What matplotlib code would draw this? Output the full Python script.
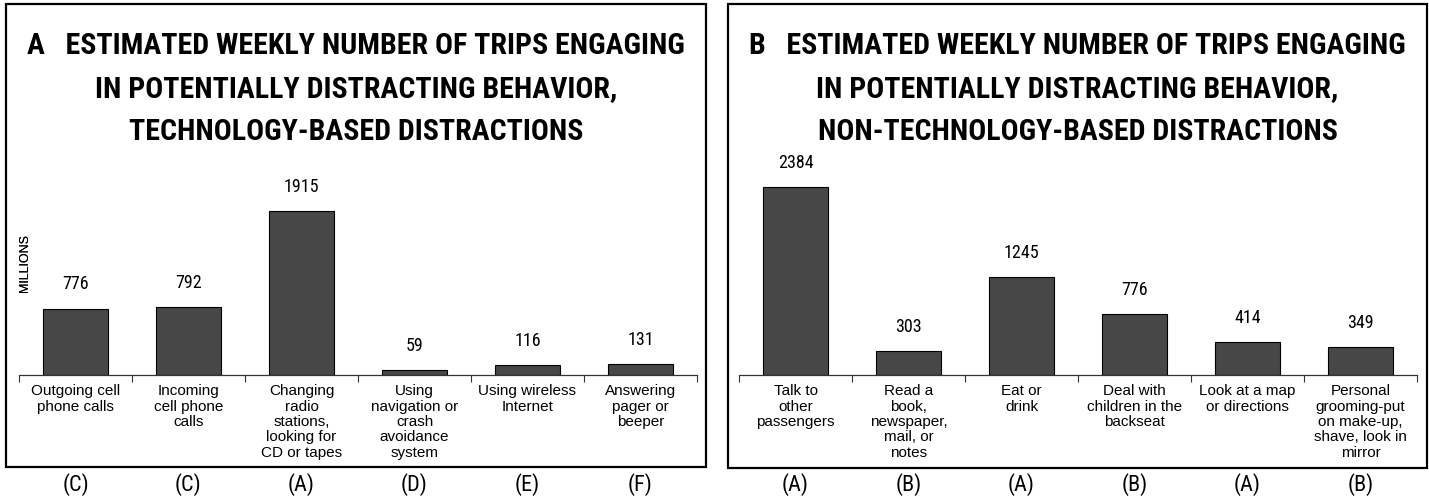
import matplotlib
matplotlib.use("Agg")
import matplotlib.pyplot as plt
from matplotlib import font_manager as fm
from matplotlib.patches import Rectangle
from matplotlib.transforms import blended_transform_factory

# data
tech_labels = ["Outgoing cell\nphone calls", "Incoming\ncell phone\ncalls",
               "Changing\nradio\nstations,\nlooking for\nCD or tapes",
               "Using\nnavigation or\ncrash\navoidance\nsystem",
               "Using wireless\nInternet", "Answering\npager or\nbeeper"]
tech_values = [776, 792, 1915, 59, 116, 131]
tech_grades = ["(C)", "(C)", "(A)", "(D)", "(E)", "(F)"]

nontech_labels = ["Talk to\nother\npassengers", "Read a\nbook,\nnewspaper,\nmail, or\nnotes",
                  "Eat or\ndrink", "Deal with\nchildren in the\nbackseat",
                  "Look at a map\nor directions",
                  "Personal\ngrooming-put\non make-up,\nshave, look in\nmirror"]
nontech_values = [2384, 303, 1245, 776, 414, 349]
nontech_grades = ["(A)", "(B)", "(A)", "(B)", "(A)", "(B)"]

title_a = ["A   ESTIMATED WEEKLY NUMBER OF TRIPS ENGAGING",
           "IN POTENTIALLY DISTRACTING BEHAVIOR,",
           "TECHNOLOGY-BASED DISTRACTIONS"]
title_b = ["B   ESTIMATED WEEKLY NUMBER OF TRIPS ENGAGING",
           "IN POTENTIALLY DISTRACTING BEHAVIOR,",
           "NON-TECHNOLOGY-BASED DISTRACTIONS"]

W, H = 1429, 502
fig = plt.figure(figsize=(W / 100, H / 100), dpi=100)


def have(name):
    try:
        fm.findfont(fm.FontProperties(family=name), fallback_to_default=False)
        return True
    except ValueError:
        return False


# pick a condensed face if one is installed, else plain Arial-like
narrow_name = next(f for f in ["Liberation Sans Narrow", "Arial Narrow",
                               "Roboto Condensed", "DejaVu Sans Condensed",
                               "Liberation Sans", "DejaVu Sans"] if have(f))
narrow = [narrow_name, "DejaVu Sans"]
regular = ["Liberation Sans", "DejaVu Sans"]


def fx(x):
    return x / W


def fy(y):
    return 1 - y / H


def panel(box, ax_x, ylim_top, labels, values, grades, title):
    # frame around the panel
    x0, y0, x1, y1 = box
    fig.add_artist(Rectangle((fx(x0), fy(y1)), fx(x1 - x0), (y1 - y0) / H,
                             transform=fig.transFigure, fill=False,
                             edgecolor="black", linewidth=1.6))
    # title lines, sized so the first line spans ~657 px like the original
    cx = (x0 + x1) / 2
    texts = [fig.text(fx(cx), fy(54 + 42.8 * i), line, ha="center",
                      va="baseline", fontsize=20, fontweight="bold",
                      family=narrow)
             for i, line in enumerate(title)]
    r = fig.canvas.get_renderer()
    wpx = texts[0].get_window_extent(r).width
    size = min(22, 20 * 657 / wpx)
    for t in texts:
        t.set_fontsize(size)

    ax = fig.add_axes([fx(ax_x[0]), fy(376), fx(ax_x[1] - ax_x[0]), 226 / H])
    n = len(values)
    pos = list(range(n))
    bars = ax.bar(pos, values, width=0.58, color="#474747",
                  edgecolor="black", linewidth=0.8)
    for b, v in zip(bars, values):
        ax.annotate(str(v), (b.get_x() + b.get_width() / 2, v),
                    xytext=(0, 14.5), textcoords="offset points",
                    ha="center", va="baseline", fontsize=13, family=narrow)
    ax.set_xlim(-0.5, n - 0.5)
    ax.set_ylim(0, ylim_top)
    for s in ["top", "right", "left"]:
        ax.spines[s].set_visible(False)
    ax.spines["bottom"].set_color("#333333")
    ax.spines["bottom"].set_linewidth(0.9)
    ax.set_yticks([])
    ax.set_xticks(pos)
    ax.set_xticklabels(labels, fontsize=11, family=regular, linespacing=1.12)
    ax.tick_params(axis="x", which="major", length=0, pad=6)
    ax.set_xticks([i - 0.5 for i in range(n + 1)], minor=True)
    ax.tick_params(axis="x", which="minor", length=5, width=0.8,
                   color="#333333", direction="out")
    ax.text((25 - ax_x[0]) / (ax_x[1] - ax_x[0]), 0.5, "MILLIONS",
            transform=ax.transAxes, rotation=90, ha="center", va="center",
            fontsize=9, family=regular)
    tr = blended_transform_factory(ax.transData, fig.transFigure)
    for i, g in enumerate(grades):
        ax.text(i, fy(485), g, transform=tr, ha="center", va="center",
                fontsize=16, family=narrow, clip_on=False)
    return ax


panel((6, 5, 706, 468), (19, 697), 226 / 0.08564, tech_labels, tech_values,
      tech_grades, title_a)
panel((728, 5, 1427, 469), (739, 1417), 226 / 0.07886, nontech_labels,
      nontech_values, nontech_grades, title_b)

fig.savefig("out.png", dpi=100)
